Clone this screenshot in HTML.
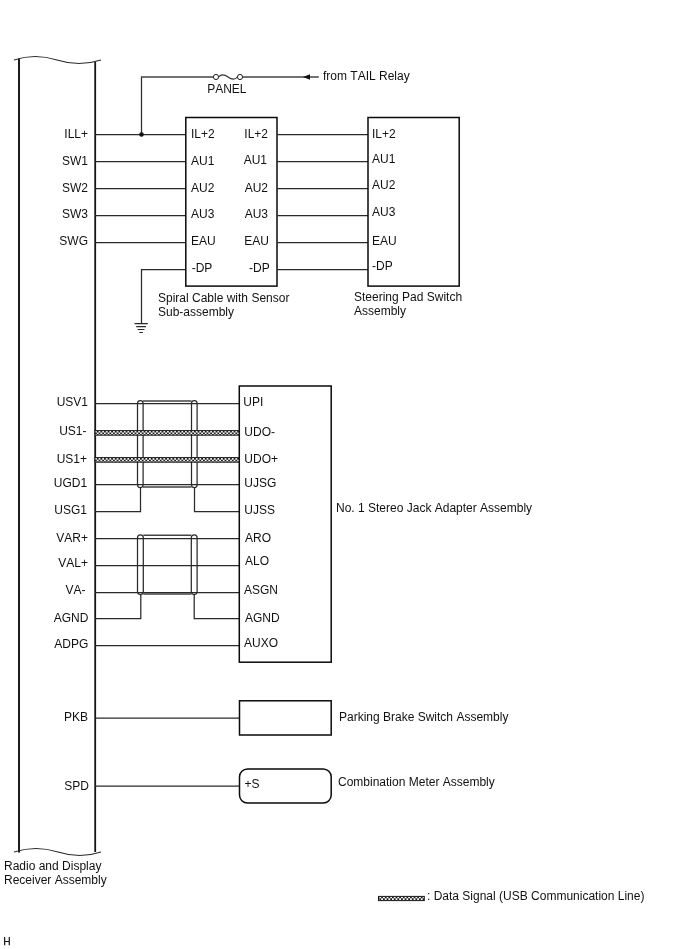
<!DOCTYPE html>
<html><head><meta charset="utf-8">
<style>
html,body{margin:0;padding:0;background:#fff;}
body{width:688px;height:949px;overflow:hidden;}
svg{display:block;will-change:transform;}
text{font-family:"Liberation Sans",sans-serif;font-size:12px;fill:#111;font-kerning:none;}
</style></head><body>
<svg width="688" height="949" viewBox="0 0 688 949">
<defs>
<pattern id="chk" width="3.6" height="3.4" patternUnits="userSpaceOnUse" x="95" y="430.8">
<rect width="3.6" height="3.4" fill="#1a1a1a"/>
<rect x="0" y="0" width="1.8" height="1.7" fill="#fff"/>
<rect x="1.8" y="1.7" width="1.8" height="1.7" fill="#fff"/>
</pattern>
</defs>
<g fill="none" stroke="#2a2a2a" stroke-width="1.25">
<!-- receiver -->
<path d="M19,58.6 V852.4" stroke-width="2" stroke="#1c1c1c"/>
<path d="M95.2,62 V852" stroke-width="1.8" stroke="#151515"/>
<path d="M14,60 Q35,53 57,60 T101,60" stroke-width="1.1"/>
<path d="M14,852 Q36,845 58,852 T101,852" stroke-width="1.1"/>

<!-- top wires -->
<path d="M95,134.5 H186"/>
<path d="M95,161.5 H186"/>
<path d="M95,188.5 H186"/>
<path d="M95,215.5 H186"/>
<path d="M95,242.5 H186"/>
<path d="M186,269.5 H141.5 V323.5"/>
<path d="M141.5,134.5 V77"/>
<!-- ground -->
<path d="M134.5,323.7 H147.8 M136.2,326.6 H146 M137.6,329.5 H144.5 M139.3,332.5 H142.9" stroke-width="1.2"/>
<!-- box 1 -->
<rect x="185.8" y="117.5" width="91.2" height="168.6" stroke-width="1.5" stroke="#0a0a0a"/>
<path d="M277,134.5 H368 M277,161.5 H368 M277,188.5 H368 M277,215.5 H368 M277,242.5 H368 M277,269.5 H368"/>
<rect x="368" y="117.5" width="91.2" height="168.6" stroke-width="1.5" stroke="#0a0a0a"/>

<!-- middle section -->
<path d="M95,403.5 H239"/>
<path d="M95,484.5 H239"/>
<path d="M95,511.5 H140.5 V487.5 M194.5,487.5 V511.5 H239"/>
<path d="M95,538.5 H239"/>
<path d="M95,565.5 H239"/>
<path d="M95,592.5 H239"/>
<path d="M95,618.5 H140.8 V594.5 M194.2,594.5 V618.5 H239"/>
<path d="M95,645.5 H239"/>
<rect x="239.3" y="386" width="91.9" height="276.2" stroke-width="1.5" stroke="#0a0a0a"/>
<!-- shields -->
<rect x="137.5" y="400.5" width="5.6" height="87" rx="2.8"/>
<rect x="191.5" y="400.5" width="5.6" height="87" rx="2.8"/>
<path d="M143,401 H191.5 M143,487 H191.5" stroke="#444" stroke-width="1.6"/>
<rect x="137.5" y="534.8" width="5.8" height="59.7" rx="2.9"/>
<rect x="191.3" y="534.8" width="5.8" height="59.7" rx="2.9"/>
<path d="M143.3,535.3 H191.3 M143.3,594 H191.3" stroke="#444" stroke-width="1.6"/>
<!-- bottom -->
<path d="M95,718 H239.5"/>
<rect x="239.5" y="700.8" width="91.7" height="34.2" stroke-width="1.5" stroke="#0a0a0a"/>
<path d="M95,786 H239.5"/>
<rect x="239.5" y="768.9" width="91.7" height="34.2" rx="8" stroke-width="1.5" stroke="#0a0a0a"/>
</g>
<!-- data lines -->
<g>
<rect x="95" y="430.6" width="144" height="4.6" fill="url(#chk)" stroke="#1a1a1a" stroke-width="1"/>
<rect x="95" y="457.6" width="144" height="4.6" fill="url(#chk)" stroke="#1a1a1a" stroke-width="1"/>
<rect x="378.5" y="896.4" width="45.8" height="4.2" fill="url(#chk)" stroke="#1a1a1a" stroke-width="1"/>
</g>
<!-- fuse -->
<g fill="#fff" stroke="#222" stroke-width="1">
<circle cx="216" cy="77" r="2.6"/>
<circle cx="240" cy="77" r="2.6"/>
</g>
<path d="M140.9,77 H213.4 M242.6,77 H318.8" fill="none" stroke="#444" stroke-width="1.4"/>
<path d="M218.6,77 C221,74 224,74 228,77 C232,80 235,80 237.4,77" fill="none" stroke="#333" stroke-width="1.2"/>
<path d="M302.9,77 L310,74.2 L310,79.8 Z" fill="#111"/>
<circle cx="141.5" cy="134.5" r="2.3" fill="#111"/>

<!-- labels -->
<g text-anchor="end">
<text x="88" y="138">ILL+</text>
<text x="88" y="165">SW1</text>
<text x="88" y="192">SW2</text>
<text x="88" y="218">SW3</text>
<text x="88" y="245">SWG</text>
<text x="88" y="406">USV1</text>
<text x="86.5" y="435">US1-</text>
<text x="87" y="462.5">US1+</text>
<text x="87.2" y="487">UGD1</text>
<text x="87" y="514">USG1</text>
<text x="88" y="541.5">VAR+</text>
<text x="88" y="567">VAL+</text>
<text x="85.5" y="594">VA-</text>
<text x="88.3" y="622">AGND</text>
<text x="88.3" y="648.3">ADPG</text>
<text x="88" y="721">PKB</text>
<text x="89" y="790">SPD</text>
<text x="268" y="138">IL+2</text>
<text x="267" y="164">AU1</text>
<text x="268" y="192">AU2</text>
<text x="268" y="218">AU3</text>
<text x="269" y="245.4">EAU</text>
<text x="269.7" y="271.5">-DP</text>
</g>
<text x="191" y="138">IL+2</text>
<text x="191" y="165">AU1</text>
<text x="191" y="192">AU2</text>
<text x="191" y="218">AU3</text>
<text x="191" y="245.4">EAU</text>
<text x="191.7" y="272">-DP</text>

<text x="372" y="138">IL+2</text>
<text x="372" y="163">AU1</text>
<text x="372" y="189">AU2</text>
<text x="372" y="216">AU3</text>
<text x="372" y="245">EAU</text>
<text x="372" y="270">-DP</text>

<text x="158" y="302">Spiral Cable with Sensor</text>
<text x="158" y="316">Sub-assembly</text>
<text x="354" y="301">Steering Pad Switch</text>
<text x="354" y="315">Assembly</text>

<text x="207.2" y="92.8">PANEL</text>
<text x="323" y="80">from TAIL Relay</text>

<text x="243.3" y="405.5">UPI</text>
<text x="244.3" y="436">UDO-</text>
<text x="244.3" y="463">UDO+</text>
<text x="244.3" y="487">UJSG</text>
<text x="244.3" y="514">UJSS</text>
<text x="245" y="542.2">ARO</text>
<text x="245" y="565">ALO</text>
<text x="244" y="594.3">ASGN</text>
<text x="245" y="622.3">AGND</text>
<text x="244" y="647">AUXO</text>
<text x="336" y="512">No. 1 Stereo Jack Adapter Assembly</text>

<text x="339" y="721">Parking Brake Switch Assembly</text>
<text x="244.5" y="788">+S</text>
<text x="338" y="786">Combination Meter Assembly</text>

<text x="4" y="870">Radio and Display</text>
<text x="4" y="884">Receiver Assembly</text>
<text x="427" y="900">: Data Signal (USB Communication Line)</text>
<text x="3.2" y="944.8" style="font-size:10.3px;stroke:#111;stroke-width:0.25">H</text>
</svg>
</body></html>
